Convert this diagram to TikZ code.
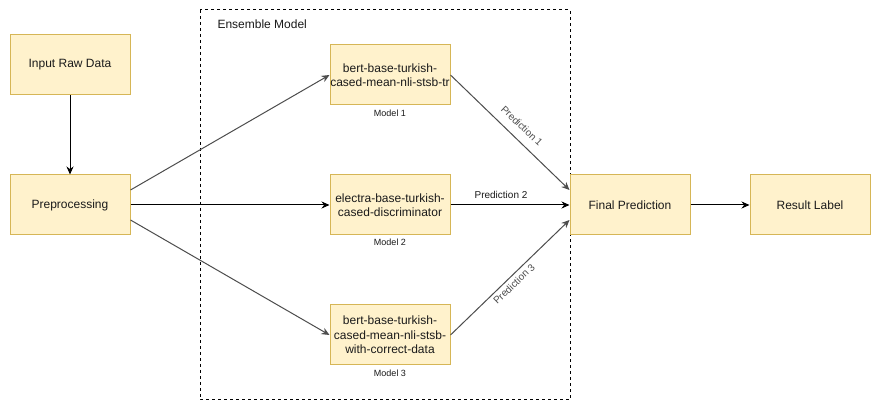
\documentclass[tikz,border=0pt]{standalone}
\usepackage{fontspec}
\setmainfont{Liberation Sans}
\usetikzlibrary{arrows.meta}
\definecolor{boxfill}{HTML}{FFF2CC}
\definecolor{boxdraw}{HTML}{D6B656}
\definecolor{linegray}{HTML}{4D4D4D}
\definecolor{txt}{HTML}{1A1A1A}
\begin{document}
\begin{tikzpicture}[x=1pt,y=-1pt,
  box/.style={draw=boxdraw,fill=boxfill,line width=1pt,minimum width=120pt,minimum height=60pt,inner sep=0pt,align=center,font=\fontsize{12}{14.5}\selectfont,text=txt},
  conn/.style={line width=1pt,-{Stealth[length=8pt,width=7pt]}},
  mlabel/.style={font=\fontsize{9}{10}\selectfont,text=txt},
  plabel/.style={font=\fontsize{10}{11}\selectfont,text=linegray,inner sep=0pt}]
\useasboundingbox (0,0) rectangle (881,411);
\fill[white] (0,0) rectangle (881,411);
\draw[line width=1pt,dash pattern=on 3pt off 3pt] (200,10) rectangle (570,400);
\node[anchor=west,font=\fontsize{12}{14}\selectfont,text=txt] (ens) at (214,24) {Ensemble Model};
\node[box] (input) at (70,65) {Input Raw Data};
\node[box] (prep) at (70,205) {Preprocessing};
\node[box] (m1) at (390,75) {bert-base-turkish-\\cased-mean-nli-stsb-tr};
\node[box] (m2) at (390,205) {electra-base-turkish-\\cased-discriminator};
\node[box] (m3) at (390,335) {bert-base-turkish-\\cased-mean-nli-stsb-\\with-correct-data};
\node[mlabel] (l1) at (390,113) {Model 1};
\node[mlabel] (l2) at (390,242.5) {Model 2};
\node[mlabel] (l3) at (390,373) {Model 3};
\node[box] (final) at (630,205) {Final Prediction};
\node[box] (result) at (810,205) {Result Label};
\draw[conn] (input) -- (prep);
\draw[conn,draw=linegray] (prep.east |- 0,190) -- (m1.west);
\draw[conn] (prep.east) -- (m2.west);
\draw[conn,draw=linegray] (prep.east |- 0,220) -- (m3.west);
\draw[conn,draw=linegray] (m1.east) -- (final.west |- 0,190);
\draw[conn] (m2.east) -- (final.west);
\draw[conn,draw=linegray] (m3.east) -- (final.west |- 0,220);
\draw[conn] (final) -- (result);
\node[plabel,rotate=-43.8] (p1) at (522,126) {Prediction 1};
\node[plabel,text=txt] (p2) at (501,195) {Prediction 2};
\node[plabel,rotate=43.8] (p3) at (514,284) {Prediction 3};
\end{tikzpicture}
\end{document}
